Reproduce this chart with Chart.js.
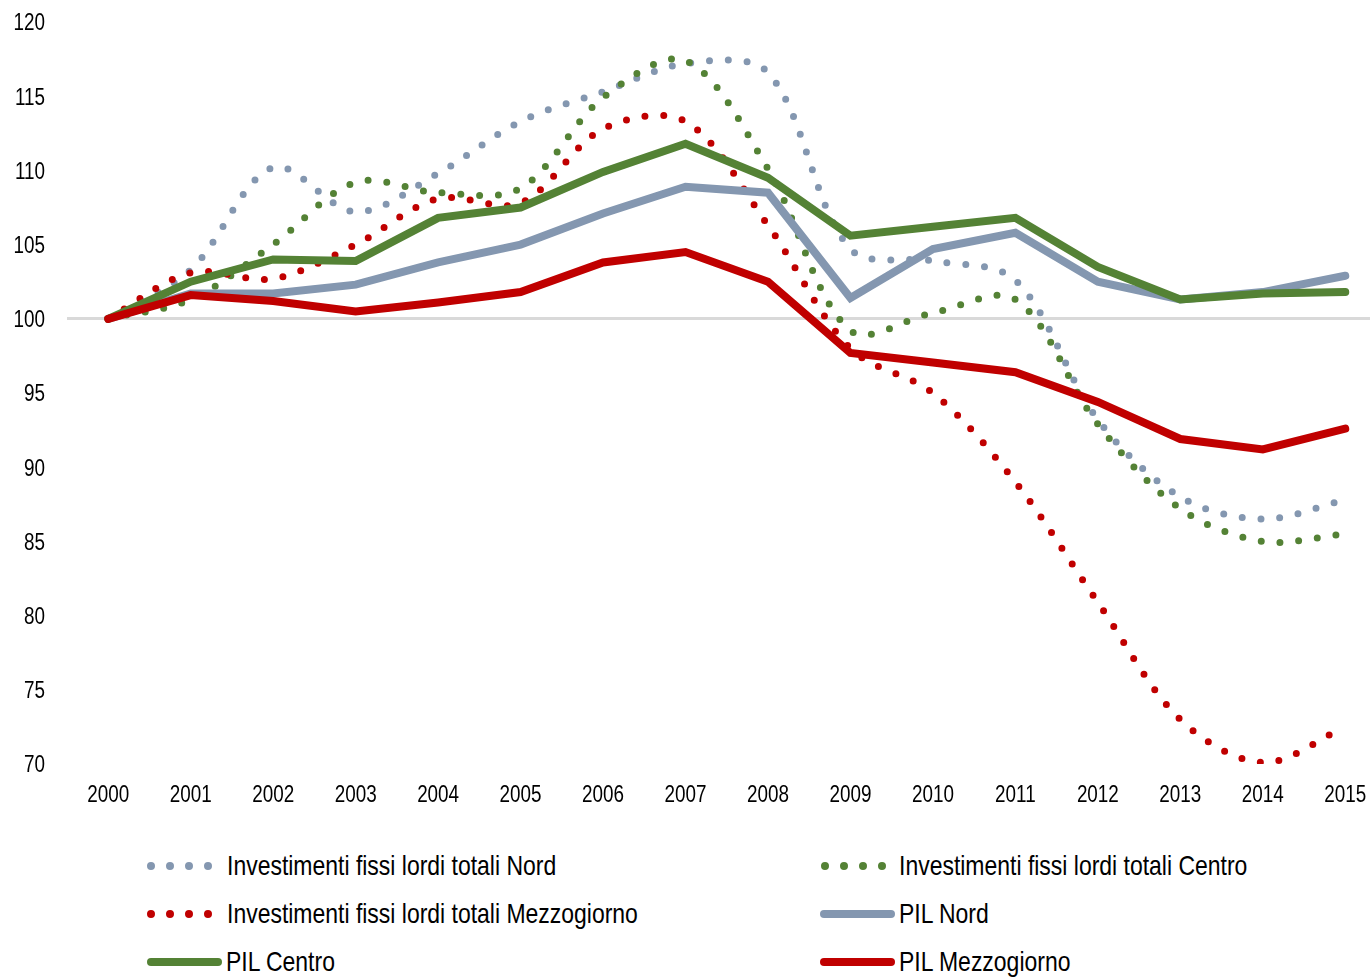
<!doctype html>
<html lang="it">

<head>
    <meta charset="UTF-8" />
    <title>Investimenti e PIL</title>
    <script src="https://cdn.jsdelivr.net/npm/chart.js"></script>
    <style>
        body {
            margin: 0;
            background: #fff;
            font-family: 'Liberation Sans', Arial, sans-serif;
            overflow: hidden;
        }

        #wrap {
            position: absolute;
            left: 0;
            top: 0;
            width: 1370px;
            height: 810px;
        }

        .leg {
            position: absolute;
            height: 30px;
            display: flex;
            align-items: center;
            color: #000;
            white-space: nowrap;
        }

        .leg svg {
            display: block;
            flex: none;
        }

        .leg span {
            display: inline-block;
            font-size: 28px;
            line-height: 30px;
            transform: scaleX(0.82);
            transform-origin: left center;
        }
    </style>
</head>

<body>
    <div id="wrap">
        <canvas id="myChart"></canvas>
    </div>
    <div id="legend"></div>

    <script>

        const years = [2000, 2001, 2002, 2003, 2004, 2005, 2006, 2007, 2008, 2009, 2010, 2011, 2012, 2013, 2014, 2015];

        const invNord = [100, 103.3, 110.2, 107.2, 109.8, 113.3, 115.3, 117.2, 116.6, 104.7, 103.9, 102.6, 93.2, 88.0, 86.5, 87.8];
        const invCentro = [100, 101.3, 105.0, 109.2, 108.5, 108.8, 114.9, 117.4, 110.1, 99.2, 100.4, 101.3, 92.9, 87.2, 85.0, 85.5];
        const invMezzogiorno = [100, 103.1, 102.7, 105.0, 108.1, 107.8, 112.8, 113.3, 106.3, 98.0, 95.0, 89.0, 80.9, 73.0, 70.1, 72.5];
        const pilNord = [100, 101.7, 101.7, 102.3, 103.8, 105.0, 107.1, 108.9, 108.5, 101.4, 104.7, 105.8, 102.5, 101.3, 101.8, 102.9];
        const pilCentro = [100, 102.5, 104.0, 103.9, 106.8, 107.5, 109.9, 111.8, 109.5, 105.6, 106.2, 106.8, 103.5, 101.3, 101.7, 101.8];
        const pilMezzogiorno = [100, 101.6, 101.2, 100.5, 101.1, 101.8, 103.8, 104.5, 102.5, 97.7, 97.05, 96.4, 94.4, 91.9, 91.2, 92.6];

        const yTicks = [70, 75, 80, 85, 90, 95, 100, 105, 110, 115, 120];

        const blu = '#8497B0';
        const verde = '#548235';
        const rosso = '#C00000';

        function toPoints(values) {
            return values.map((v, i) => ({ x: years[i], y: v }));
        }

        function dotted(label, values, color, order) {
            return {
                label: label,
                data: toPoints(values),
                borderColor: color,
                backgroundColor: color,
                borderWidth: 7,
                borderDash: [0, 18.8],
                borderCapStyle: 'round',
                tension: 0.33,
                pointRadius: 0,
                order: order
            };
        }

        function solid(label, values, color, order) {
            return {
                label: label,
                data: toPoints(values),
                borderColor: color,
                backgroundColor: color,
                borderWidth: 8,
                borderCapStyle: 'round',
                borderJoinStyle: 'miter',
                tension: 0,
                pointRadius: 0,
                order: order
            };
        }

        const datasets = [
            dotted('Investimenti fissi lordi totali Nord', invNord, blu, 6),
            dotted('Investimenti fissi lordi totali Centro', invCentro, verde, 5),
            dotted('Investimenti fissi lordi totali Mezzogiorno', invMezzogiorno, rosso, 4),
            solid('PIL Nord', pilNord, blu, 3),
            solid('PIL Centro', pilCentro, verde, 2),
            solid('PIL Mezzogiorno', pilMezzogiorno, rosso, 1)
        ];

        const fontFam = "'Liberation Sans', Arial, sans-serif";

        /* etichette degli assi, strette come Arial Narrow */
        const narrowTicks = {
            id: 'narrowTicks',
            afterDraw(chart) {
                const c = chart.ctx;
                const area = chart.chartArea;
                const xs = chart.scales.x;
                const ys = chart.scales.y;
                c.save();
                c.fillStyle = '#000';
                c.font = '23px ' + fontFam;
                c.textBaseline = 'middle';
                ys.ticks.forEach(t => {
                    c.save();
                    c.translate(ys.right - 22, ys.getPixelForValue(t.value) + 2);
                    c.scale(0.82, 1);
                    c.textAlign = 'right';
                    c.fillText(String(t.value), 0, 0);
                    c.restore();
                });
                xs.ticks.forEach(t => {
                    c.save();
                    c.translate(xs.getPixelForValue(t.value), area.bottom + 32);
                    c.scale(0.82, 1);
                    c.textAlign = 'center';
                    c.fillText(String(t.value), 0, 0);
                    c.restore();
                });
                c.restore();
            }
        };

        const ctx = document.getElementById('myChart');

        new Chart(ctx, {
            type: 'line',
            data: { datasets: datasets },
            plugins: [narrowTicks],
            options: {
                responsive: true,
                maintainAspectRatio: false,
                animation: false,
                layout: {
                    padding: { top: 22, right: 0, left: 0, bottom: 0 }
                },
                plugins: {
                    legend: { display: false },
                    tooltip: { enabled: false }
                },
                scales: {
                    x: {
                        type: 'linear',
                        min: 1999.5,
                        max: 2015.3,
                        afterBuildTicks: function (axis) {
                            axis.ticks = years.map(v => ({ value: v }));
                        },
                        afterFit: function (axis) {
                            axis.height = 46;
                            axis.paddingLeft = 0;
                            axis.paddingRight = 0;
                        },
                        grid: { display: false, drawTicks: false },
                        border: { display: false },
                        ticks: { display: false }
                    },
                    y: {
                        min: 70,
                        max: 120,
                        afterBuildTicks: function (axis) {
                            axis.ticks = yTicks.map(v => ({ value: v }));
                        },
                        afterFit: function (axis) {
                            axis.width = 67;
                        },
                        grid: {
                            drawTicks: false,
                            lineWidth: 3,
                            color: c => (c.tick && c.tick.value === 100) ? '#D9D9D9' : 'rgba(0,0,0,0)'
                        },
                        border: { display: false },
                        ticks: { display: false }
                    }
                }
            }
        });

        /* legenda */
        const legendItems = [
            { i: 0, left: 145, cy: 866, dots: true, x1: 6, x2: 63, textX: 227 },
            { i: 1, left: 819, cy: 866, dots: true, x1: 6, x2: 63, textX: 899 },
            { i: 2, left: 145, cy: 914, dots: true, x1: 6, x2: 63, textX: 227 },
            { i: 3, left: 819, cy: 914, dots: false, x1: 5, x2: 72, textX: 899 },
            { i: 4, left: 145, cy: 962, dots: false, x1: 6, x2: 73, textX: 226 },
            { i: 5, left: 819, cy: 962, dots: false, x1: 5, x2: 72, textX: 899 }
        ];

        const legend = document.getElementById('legend');
        legendItems.forEach(it => {
            const ds = datasets[it.i];
            const w = it.textX - it.left;
            let line;
            if (it.dots) {
                line = `<line x1="${it.x1}" y1="15" x2="${it.x2 + 0.5}" y2="15" stroke="${ds.borderColor}" stroke-width="8" stroke-linecap="round" stroke-dasharray="0 19"/>`;
            } else {
                line = `<line x1="${it.x1}" y1="15" x2="${it.x2}" y2="15" stroke="${ds.borderColor}" stroke-width="8" stroke-linecap="round"/>`;
            }
            const el = document.createElement('div');
            el.className = 'leg';
            el.style.left = it.left + 'px';
            el.style.top = (it.cy - 15) + 'px';
            el.innerHTML = `<svg width="${w}" height="30">${line}</svg><span>${ds.label}</span>`;
            legend.appendChild(el);
        });

    </script>
</body>

</html>
